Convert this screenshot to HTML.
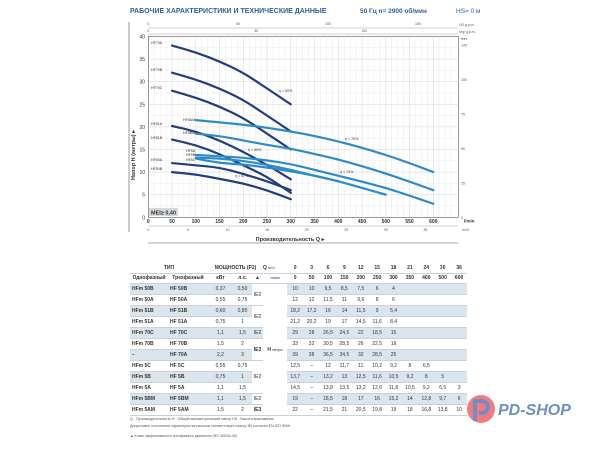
<!DOCTYPE html>
<html><head><meta charset="utf-8"><style>
body{margin:0;width:600px;height:449px;background:#fff;position:relative;overflow:hidden;font-family:"Liberation Sans",sans-serif}
svg{position:absolute;left:0;top:0}
table{position:absolute;left:130px;top:263px;border-collapse:collapse;font-size:5px;color:#333;table-layout:fixed}
td{height:10px;padding:0;text-align:center;border-bottom:0.5px solid #c8d2dc;white-space:nowrap;overflow:hidden}
td.n{text-align:left;font-weight:bold;padding-left:2px}
tr.s td{background:#dbe5ee}
tr.h td{font-weight:bold;height:9.5px}
.ft{position:absolute;left:130px;font-size:3.6px;color:#555}
</style></head><body>
<svg width="600" height="449" id="g">
<text x="130" y="13" font-size="7" font-weight="bold" fill="#2d5f9e">РАБОЧИЕ ХАРАКТЕРИСТИКИ И ТЕХНИЧЕСКИЕ ДАННЫЕ</text>
<text x="360" y="13" font-size="6.5" font-weight="bold" fill="#2d5f9e">50 Гц    n= 2900 об/мин</text>
<text x="456" y="13" font-size="6.5" fill="#2d5f9e">HS= 0 м</text>
<line x1="129" y1="22" x2="129" y2="232" stroke="#555" stroke-width="0.6"/>
<rect x="148.3" y="36.4" width="310" height="180.9" fill="none" stroke="#555" stroke-width="0.6"/>
<g id="grid"></g>
<g id="curves"></g>
<g font-size="3.6" fill="#333">
<text x="151" y="44">HF70A</text><text x="151" y="71">HF70B</text><text x="151" y="89">HF70C</text>
<text x="183" y="121">HF5AM</text><text x="183" y="134">HF5BM</text>
<text x="151" y="125">HF51A</text><text x="151" y="139">HF51B</text>
<text x="186" y="152">HF5A</text><text x="186" y="156">HF5B</text><text x="186" y="161">HF5C</text>
<text x="151" y="161">HF50A</text><text x="151" y="170">HF50B</text>
<text x="279" y="92">η = 60%</text><text x="345" y="140">η = 70%</text><text x="248" y="151">η = 65%</text>
<text x="340" y="173">η = 74%</text><text x="235" y="177">η = 67%</text>
</g>
<rect x="149" y="208" width="29" height="8" fill="#d5d9de"/>
<text x="151" y="214.5" font-size="5.5" font-weight="bold" fill="#333">MEI≥ 0,40</text>
<text x="135" y="155" font-size="5.5" font-weight="bold" fill="#333" transform="rotate(-90 135 155)" text-anchor="middle">Напор H (метры) ▸</text>
<text x="464" y="222.5" font-size="4.5" font-weight="bold" fill="#333">l/min</text>
<text x="462" y="231" font-size="3.5" fill="#555">m³/h</text>
<text x="459" y="26" font-size="3.5" fill="#555">US g.p.m.</text>
<text x="459" y="33" font-size="3.5" fill="#555">Imp g.p.m.</text>
<text x="461" y="40" font-size="3.5" fill="#555">feet</text>
<text x="290" y="241" font-size="5.5" font-weight="bold" fill="#333" text-anchor="middle">Производительность Q ▸</text>
<line x1="148" y1="243" x2="458" y2="243" stroke="#555" stroke-width="0.6"/>
<circle cx="481" cy="409" r="14" fill="#f47a80"/>
<path d="M475 421 V401 h7 a6 6 0 0 1 0 12 h-3" fill="none" stroke="#6d8fc5" stroke-width="4"/>
<text x="498" y="415" font-size="16" font-weight="bold" font-style="italic" fill="#6d8fc5">PD-SHOP</text>
</svg>
<table>
<colgroup><col style="width:38px"><col style="width:40px"><col style="width:25px"><col style="width:19px"><col style="width:11px"><col style="width:24px"><col span="11" style="width:16.4px"></colgroup>
<tr class="h"><td colspan="2">ТИП</td><td colspan="3">МОЩНОСТЬ (P2)</td><td style="text-align:left">Q <span style="font-weight:normal;font-size:3.5px">м³/ч</span></td><td>0</td><td>3</td><td>6</td><td>9</td><td>12</td><td>15</td><td>18</td><td>21</td><td>24</td><td>30</td><td>36</td></tr>
<tr class="h"><td>Однофазный</td><td>Трехфазный</td><td>кВт</td><td>л.с.</td><td>▲</td><td style="font-weight:normal;font-size:3.5px">л/мин</td><td>0</td><td>50</td><td>100</td><td>150</td><td>200</td><td>250</td><td>300</td><td>350</td><td>400</td><td>500</td><td>600</td></tr>
<tr class="s"><td class="n">HFm 50B</td><td class="n">HF 50B</td><td>0,37</td><td>0,50</td><td rowspan="2" style="background:#fff">IE2</td><td rowspan="12" style="background:#fff;font-weight:bold">H <span style="font-weight:normal;font-size:3.5px">метры</span></td><td>10</td><td>10</td><td>9,5</td><td>8,5</td><td>7,5</td><td>6</td><td>4</td><td></td><td></td><td></td><td></td></tr>
<tr><td class="n">HFm 50A</td><td class="n">HF 50A</td><td>0,55</td><td>0,75</td><td>12</td><td>12</td><td>11,5</td><td>11</td><td>9,6</td><td>8</td><td>6</td><td></td><td></td><td></td><td></td></tr>
<tr class="s"><td class="n">HFm 51B</td><td class="n">HF 51B</td><td>0,60</td><td>0,85</td><td rowspan="2" style="background:#fff">IE2</td><td>18,2</td><td>17,2</td><td>16</td><td>14</td><td>11,5</td><td>9</td><td>5,4</td><td></td><td></td><td></td><td></td></tr>
<tr><td class="n">HFm 51A</td><td class="n">HF 51A</td><td>0,75</td><td>1</td><td>21,2</td><td>20,2</td><td>19</td><td>17</td><td>14,5</td><td>11,6</td><td>8,4</td><td></td><td></td><td></td><td></td></tr>
<tr class="s"><td class="n">HFm 70C</td><td class="n">HF 70C</td><td>1,1</td><td>1,5</td><td>IE2</td><td>29</td><td>28</td><td>26,5</td><td>24,5</td><td>22</td><td>18,5</td><td>15</td><td></td><td></td><td></td><td></td></tr>
<tr><td class="n">HFm 70B</td><td class="n">HF 70B</td><td>1,5</td><td>2</td><td rowspan="2" style="background:#fff;font-weight:bold">IE3</td><td>33</td><td>32</td><td>30,5</td><td>28,5</td><td>26</td><td>22,5</td><td>19</td><td></td><td></td><td></td><td></td></tr>
<tr class="s"><td class="n">–</td><td class="n">HF 70A</td><td>2,2</td><td>3</td><td>39</td><td>38</td><td>36,5</td><td>34,5</td><td>32</td><td>28,5</td><td>25</td><td></td><td></td><td></td><td></td></tr>
<tr><td class="n">HFm 5C</td><td class="n">HF 5C</td><td>0,55</td><td>0,75</td><td rowspan="3" style="background:#fff">IE2</td><td>12,5</td><td>–</td><td>12</td><td>11,7</td><td>11</td><td>10,2</td><td>9,2</td><td>8</td><td>6,5</td><td></td><td></td></tr>
<tr class="s"><td class="n">HFm 5B</td><td class="n">HF 5B</td><td>0,75</td><td>1</td><td>13,7</td><td>–</td><td>13,2</td><td>13</td><td>12,5</td><td>11,6</td><td>10,5</td><td>9,2</td><td>8</td><td>5</td><td></td></tr>
<tr><td class="n">HFm 5A</td><td class="n">HF 5A</td><td>1,1</td><td>1,5</td><td>14,5</td><td>–</td><td>13,8</td><td>13,5</td><td>13,2</td><td>12,6</td><td>11,8</td><td>10,5</td><td>9,2</td><td>6,5</td><td>3</td></tr>
<tr class="s"><td class="n">HFm 5BM</td><td class="n">HF 5BM</td><td>1,1</td><td>1,5</td><td style="background:#fff">IE2</td><td>19</td><td>–</td><td>18,5</td><td>18</td><td>17</td><td>16</td><td>15,2</td><td>14</td><td>12,8</td><td>9,7</td><td>6</td></tr>
<tr><td class="n">HFm 5AM</td><td class="n">HF 5AM</td><td>1,5</td><td>2</td><td style="font-weight:bold">IE3</td><td>22</td><td>–</td><td>21,5</td><td>21</td><td>20,5</td><td>19,8</td><td>19</td><td>18</td><td>16,8</td><td>13,8</td><td>10</td></tr>
</table>
<div class="ft" style="top:417px">Q - Производительность  H - Общий манометрический напор  HS - Высота всасывания</div>
<div class="ft" style="top:424px">Допустимое отклонение характеристик насосов соответствует классу 3B согласно EN ISO 9906.</div>
<div class="ft" style="top:434px">▲ Класс эффективности трехфазного двигателя (IEC 60034-30)</div>
<script>
var X=q=>148.3+0.475*q, Y=h=>217.3-4.52*h, NS="http://www.w3.org/2000/svg";
function el(p,t,a,txt){var e=document.createElementNS(NS,t);for(var k in a)e.setAttribute(k,a[k]);if(txt!=null)e.textContent=txt;p.appendChild(e);return e}
var g=document.getElementById('grid');
for(var q=12.5;q<650;q+=12.5){var x=X(q);if(x>458)break;el(g,'line',{x1:x,x2:x,y1:36.4,y2:217.3,stroke:q%50==0?'#c9c9c9':'#e6e6e6','stroke-width':0.4})}
for(var h=2.5;h<40;h+=2.5)el(g,'line',{x1:148.3,x2:458.3,y1:Y(h),y2:Y(h),stroke:h%5==0?'#c9c9c9':'#e6e6e6','stroke-width':0.4});
for(var q=0;q<=600;q+=50){el(g,'text',{x:X(q),y:223,'font-size':5,'font-weight':'bold','text-anchor':'middle',fill:'#333'},''+q);}
for(var h=0;h<=40;h+=5)el(g,'text',{x:145,y:Y(h)+2,'font-size':5,'text-anchor':'end',fill:'#333'},''+h);
for(var m=0;m<=35;m+=5)el(g,'text',{x:X(m*1000/60),y:231,'font-size':3.5,'text-anchor':'middle',fill:'#555'},''+m);
for(var f=0;f<=125;f+=25)el(g,'text',{x:461,y:Y(f*0.3048)+1.5,'font-size':3.5,fill:'#555'},''+f);
for(var u=0;u<=150;u+=50)el(g,'text',{x:X(u*3.785),y:25,'font-size':3.5,'text-anchor':'middle',fill:'#555'},''+u);
for(var u=0;u<=100;u+=50)el(g,'text',{x:X(u*4.546),y:32,'font-size':3.5,'text-anchor':'middle',fill:'#555'},''+u);
el(g,'line',{x1:148,x2:458,y1:28,y2:28,stroke:'#888','stroke-width':0.4});
el(g,'line',{x1:148,x2:458,y1:34,y2:34,stroke:'#888','stroke-width':0.4});
el(g,'line',{x1:148,x2:458,y1:226,y2:226,stroke:'#888','stroke-width':0.4});
var c=document.getElementById('curves'),D='#233f80',L='#2c8ccb';
var S=[[D,50,[10,9.5,8.5,7.5,6,4]],[D,50,[12,11.5,11,9.6,8,6]],[D,50,[17.2,16,14,11.5,9,5.4]],[D,50,[20.2,19,17,14.5,11.6,8.4]],
[D,50,[28,26.5,24.5,22,18.5,15]],[D,50,[32,30.5,28.5,26,22.5,19]],[D,50,[38,36.5,34.5,32,28.5,25]],
[L,100,[13,12,11.7,11,10.2,9.2,8,6.5]],[L,100,[13.2,13,12.5,11.6,10.5,9.2,8,6.5,5]],[L,100,[13.8,13.5,13.2,12.6,11.8,10.5,9.2,7.9,6.5,4.8,3]],
[L,100,[18.5,18,17,16,15.2,14,12.8,11.3,9.7,7.9,6]],[L,100,[21.5,21,20.5,19.8,19,18,16.8,15.4,13.8,12,10]]];
S.forEach(s=>{var d='',qs=[];
 if(s[1]==50)qs=[50,100,150,200,250,300];else if(s[2].length==8)qs=[100,150,200,250,300,350,400,400];else if(s[2].length==9)qs=[100,150,200,250,300,350,400,450,500];else qs=[100,150,200,250,300,350,400,450,500,550,600];
 var pts=s[2].map((h,i)=>[X(qs[i]),Y(h)]);if(s[2].length==8)pts.pop();
 d='M'+pts[0];for(var i=1;i<pts.length;i++){var p0=pts[i-1],p1=pts[i];d+=' Q'+p0[0]+','+p0[1]+' '+((p0[0]+p1[0])/2)+','+((p0[1]+p1[1])/2);}d+=' L'+pts[pts.length-1];
 el(c,'path',{d:d,fill:'none',stroke:s[0],'stroke-width':2.2,'stroke-linecap':'round'});});
</script>
</body></html>
